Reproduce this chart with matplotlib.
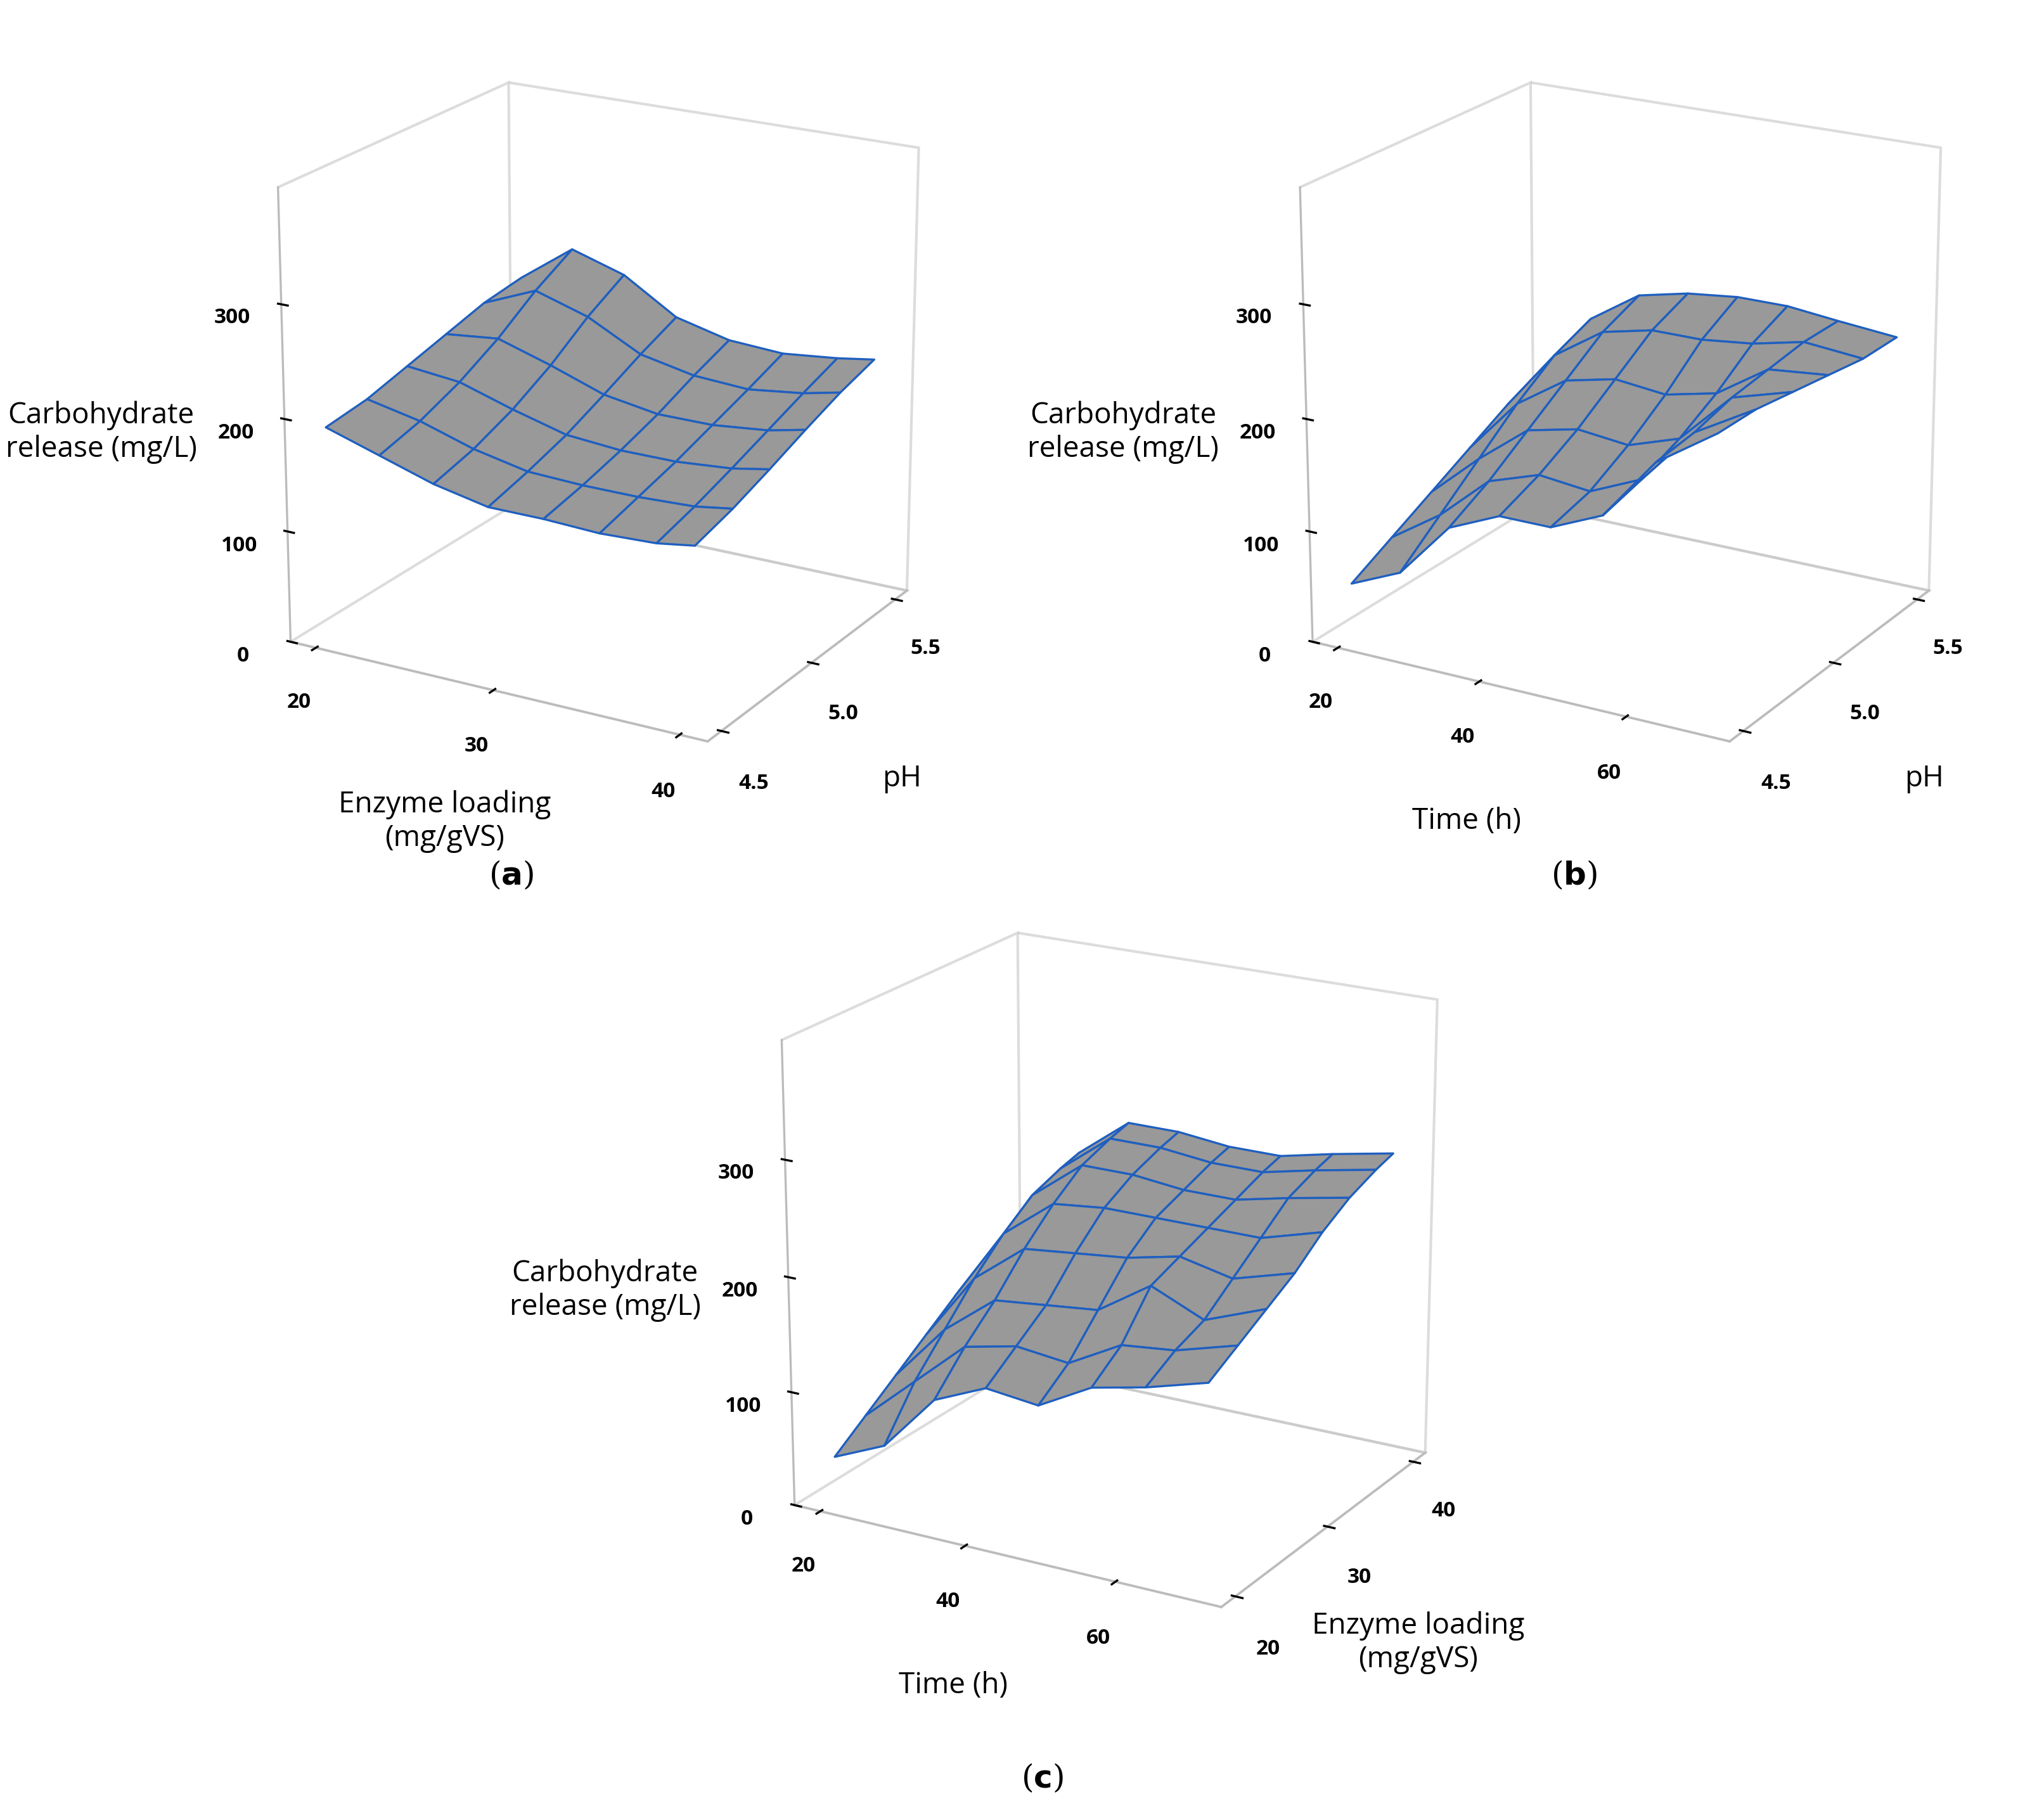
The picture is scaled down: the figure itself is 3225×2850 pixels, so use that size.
import numpy as np
import matplotlib
matplotlib.use("Agg")
import matplotlib.pyplot as plt

# Panel (a): enzyme loading (x) vs pH (y)
a_enzyme = [20, 23, 26, 29, 32, 35, 38, 40]
a_ph = [4.5, 4.7, 4.9, 5.1, 5.3, 5.5]
a_z = [  # rows = pH, cols = enzyme
    [190, 175, 160, 150, 150, 148, 150, 155],
    [195, 185, 170, 160, 158, 158, 160, 165],
    [205, 200, 185, 172, 168, 168, 172, 178],
    [215, 220, 205, 188, 180, 180, 185, 192],
    [225, 245, 230, 205, 195, 192, 198, 205],
    [230, 265, 250, 220, 208, 205, 210, 215],
]

# Panel (b): time (x) vs pH (y)
b_time = [20, 27, 34, 41, 48, 55, 62, 70]
b_ph = [4.5, 4.7, 4.9, 5.1, 5.3, 5.5]
b_z = [
    [50, 70, 120, 140, 140, 160, 215, 250],
    [70, 100, 140, 155, 150, 170, 220, 250],
    [90, 130, 165, 175, 170, 185, 230, 245],
    [110, 160, 190, 200, 195, 205, 235, 240],
    [130, 185, 215, 225, 225, 230, 240, 235],
    [140, 200, 230, 240, 245, 245, 240, 235],
]

# Panel (c): time (x) vs enzyme loading (y)
c_time = [20, 27, 34, 41, 48, 55, 62, 70]
c_enzyme = [20, 23, 26, 29, 32, 35, 38, 40]
c_z = [
    [40, 60, 110, 130, 125, 150, 160, 175],
    [60, 100, 140, 150, 145, 170, 175, 190],
    [80, 130, 165, 170, 175, 205, 185, 205],
    [100, 160, 195, 200, 205, 215, 205, 220],
    [120, 185, 220, 225, 225, 225, 225, 240],
    [135, 205, 240, 240, 235, 235, 245, 255],
    [145, 215, 250, 250, 245, 245, 255, 265],
    [150, 220, 255, 255, 250, 250, 260, 270],
]

z_ticks = [0, 100, 200, 300]
FACE = "#999999"
EDGE = "#1f5fbf"
plt.rcParams["font.family"] = "Open Sans"

fig = plt.figure(figsize=(10.75, 9.5), dpi=300)


def panel(rect, x, y, z, xlabel, ylabel, xticks, yticks, letter, letter_pos):
    ax = fig.add_axes(rect, projection="3d")
    X, Y = np.meshgrid(x, y)
    Z = np.array(z, dtype=float)
    ax.plot_surface(X, Y, Z, color=FACE, edgecolor=EDGE, linewidth=0.8,
                    shade=False, antialiased=True)
    ax.view_init(elev=20, azim=-60)
    ax.set_box_aspect((1, 0.9, 1.0))
    ax.set_zlim(0, 400)
    ax.set_zticks(z_ticks)
    ax.set_xticks(xticks)
    ax.set_yticks(yticks)
    ax.set_yticklabels([f"{t:.1f}" if isinstance(t, float) else str(t) for t in yticks])
    ax.zaxis._axinfo["juggled"] = (1, 2, 0)
    for axis in (ax.xaxis, ax.yaxis, ax.zaxis):
        axis.pane.fill = False
        axis.pane.set_edgecolor("#bbbbbb")
        axis._axinfo["grid"]["linewidth"] = 0
        axis._axinfo["axisline"]["color"] = "#bbbbbb"
        axis._axinfo["tick"]["color"] = "#bbbbbb"
        axis.line.set_color("#bbbbbb")
        axis.set_rotate_label(False)
    ax.grid(False)
    ax.tick_params(labelsize=8)
    for lab in ax.get_xticklabels() + ax.get_yticklabels() + ax.get_zticklabels():
        lab.set_fontweight("bold")
    ax.set_xlabel(xlabel, fontsize=11, labelpad=12, rotation=0)
    ax.set_ylabel(ylabel, fontsize=11, labelpad=12, rotation=0)
    ax.set_zlabel("Carbohydrate\nrelease (mg/L)", fontsize=11, labelpad=22, rotation=0)
    fig.text(letter_pos[0], letter_pos[1], "(" + r"$\mathbf{" + letter + "}$" + ")",
             fontsize=12, family="DejaVu Serif", ha="center")
    return ax


panel([0.08, 0.56, 0.42, 0.43], a_enzyme, a_ph, a_z,
      "Enzyme loading\n(mg/gVS)", "pH", [20, 30, 40], [4.5, 5.0, 5.5], "a", (0.25, 0.51))
panel([0.58, 0.56, 0.42, 0.43], b_time, b_ph, b_z,
      "Time (h)", "pH", [20, 40, 60], [4.5, 5.0, 5.5], "b", (0.77, 0.51))
panel([0.3, 0.08, 0.48, 0.44], c_time, c_enzyme, c_z,
      "Time (h)", "Enzyme loading\n(mg/gVS)", [20, 40, 60], [20, 30, 40], "c", (0.51, 0.01))

fig.savefig("out.png", dpi=300)
